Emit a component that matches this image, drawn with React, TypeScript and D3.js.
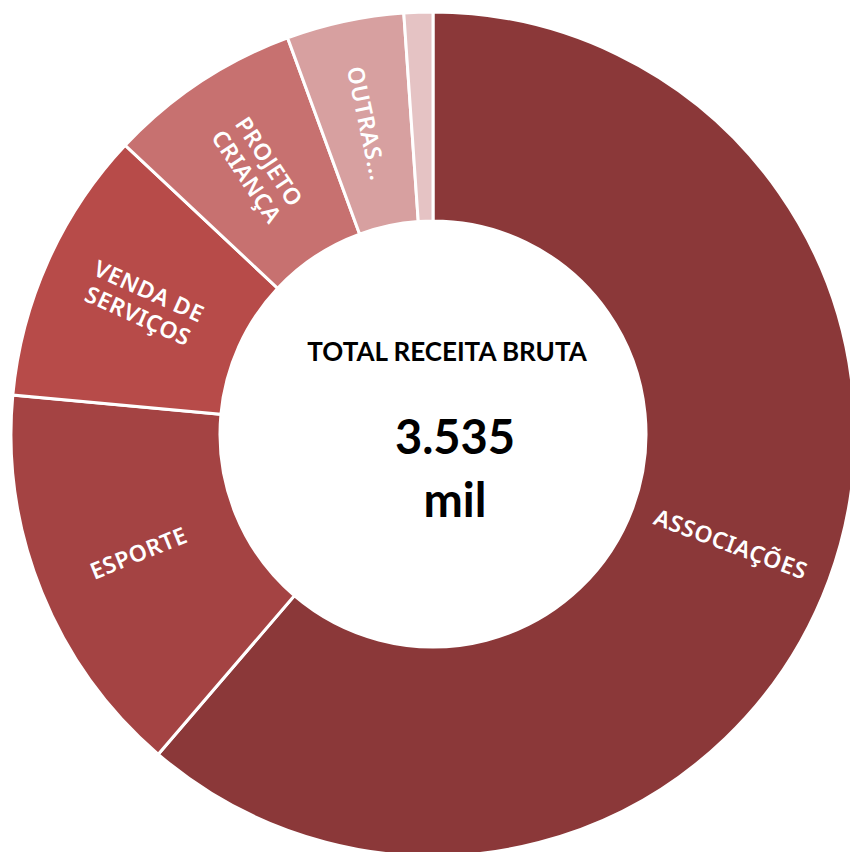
import React from "react";
import * as d3 from "d3";

const categories = ["ASSOCIAÇÕES", "ESPORTE", "VENDA DE SERVIÇOS", "PROJETO CRIANÇA", "OUTRAS...", ""];
const labelLines = [["ASSOCIAÇÕES"], ["ESPORTE"], ["VENDA DE", "SERVIÇOS"], ["PROJETO", "CRIANÇA"], ["OUTRAS..."], []];
const values = [2167, 537, 372, 262, 159, 39];
const colors = ["#8B3839", "#A44343", "#B74B49", "#C77170", "#D7A0A0", "#E5C3C4"];
const totalLabel = "TOTAL RECEITA BRUTA";
const totalValue = "3.535";
const totalUnit = "mil";

const W = 850;
const H = 852;
const cx = 433;
const cy = 434;
const rOuter = 422;
const rInner = 213;
const FONT = "'Noto Sans', sans-serif";
const CFONT = "Lato, sans-serif";

export default function App() {
  const pie = d3.pie<number>().sort(null).value((d) => d);
  const arcs = pie(values);
  const arc = d3.arc<d3.PieArcDatum<number>>().innerRadius(rInner).outerRadius(rOuter);

  return (
    <svg
      width={W}
      height={H}
      style={{ position: "absolute", left: 0, top: 0, background: "#fff" }}
    >
      <g transform={`translate(${cx},${cy})`}>
        {arcs.map((a, i) => (
          <path key={i} d={arc(a) || ""} fill={colors[i]} stroke="#fff" strokeWidth={3} />
        ))}
        {arcs.map((a, i) => {
          const lines = labelLines[i];
          if (!lines.length) return null;
          const [x, y] = arc.centroid(a);
          const mid = ((a.startAngle + a.endAngle) / 2) * 180 / Math.PI;
          const rot = mid < 180 ? mid - 90 : mid - 270;
          const lh = 27;
          const off = -((lines.length - 1) * lh) / 2;
          return (
            <text
              key={"l" + i}
              transform={`translate(${x},${y}) rotate(${rot})`}
              textAnchor="middle"
              fill="#fff"
              fontFamily={FONT}
              fontWeight={600}
              fontSize={23}
              letterSpacing={0.6}
            >
              {lines.map((ln, j) => (
                <tspan key={j} x={0} y={off + j * lh} dy="0.35em">
                  {ln}
                </tspan>
              ))}
            </text>
          );
        })}
      </g>
      <text x={447} y={361} textAnchor="middle" fontFamily={CFONT} fontWeight="bold" fontSize={26} fill="#000">
        {totalLabel}
      </text>
      <text x={455} y={454} textAnchor="middle" fontFamily={CFONT} fontWeight="bold" fontSize={47} fill="#000">
        {totalValue}
      </text>
      <text x={455} y={517} textAnchor="middle" fontFamily={CFONT} fontWeight="bold" fontSize={47} fill="#000">
        {totalUnit}
      </text>
    </svg>
  );
}
